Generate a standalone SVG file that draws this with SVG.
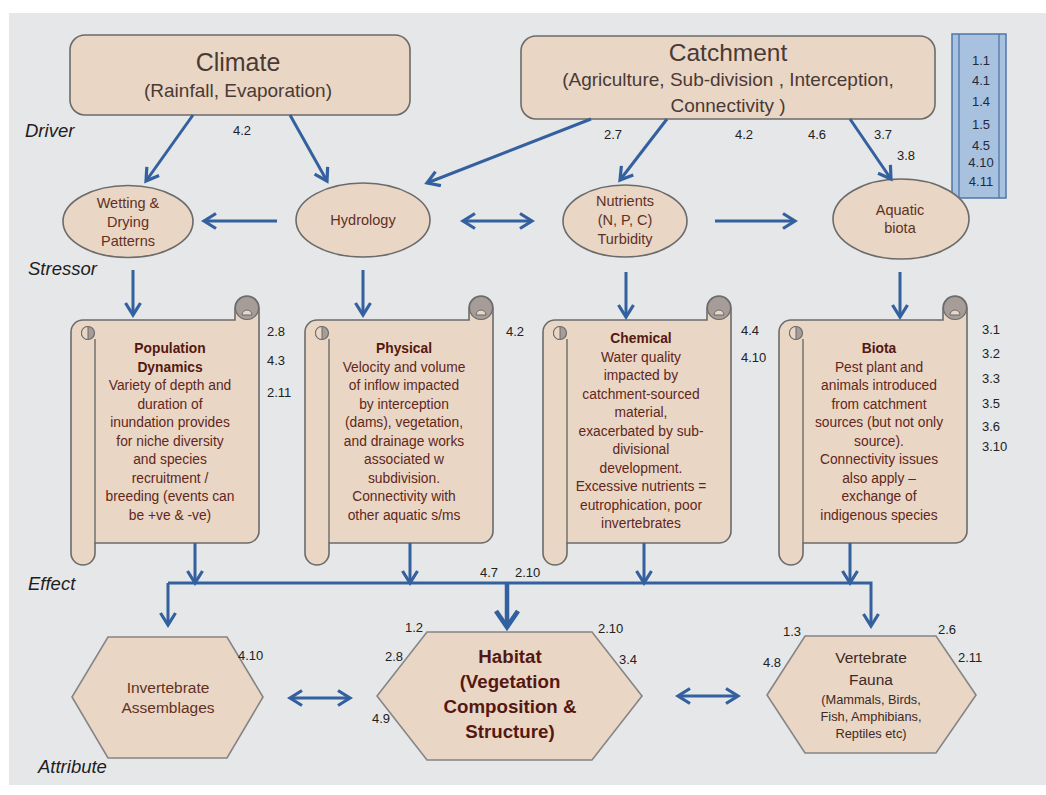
<svg xmlns="http://www.w3.org/2000/svg" xmlns:xlink="http://www.w3.org/1999/xlink" width="1046" height="795" viewBox="0 0 1046 795">
<style>
.t{font-family:'Liberation Sans',Arial,sans-serif;text-anchor:middle}
.node{fill:#e9d6c5;stroke:#6b6b6b;stroke-width:1.6}
.hex{fill:#e9d6c5;stroke:#858585;stroke-width:1.6}
.conn{fill:none;stroke:#33609f;stroke-width:3}
.num{font-family:'Liberation Sans',Arial,sans-serif;font-size:13px;fill:#222}
.lbl{font-family:'Liberation Sans',Arial,sans-serif;font-style:italic;font-size:18.5px;fill:#1e1e1e}
.box{font-size:19px;fill:#4a3a35}
.ell{font-size:14.5px;fill:#62301f}
.sc{font-size:13.8px;fill:#62261b}
.scb{font-weight:bold;fill:#551810}
.gray{fill:#a69d98;stroke:#6b6b6b;stroke-width:1.2}
</style>
<defs>
<marker id="ah" viewBox="0 0 18 18" refX="15" refY="9" markerWidth="18" markerHeight="18" markerUnits="userSpaceOnUse" orient="auto-start-reverse">
<path d="M3,1.5 L15,9 L3,16.5" fill="none" stroke="#33609f" stroke-width="3.2"/>
</marker>
<marker id="ahBig" viewBox="0 0 26 26" refX="20" refY="13" markerWidth="26" markerHeight="26" markerUnits="userSpaceOnUse" orient="auto">
<path d="M4,2 L20,13 L4,24" fill="none" stroke="#33609f" stroke-width="4.8"/>
</marker>
<g id="scrollShape">
<path class="node" d="M12,0 H164 V-12 A12,12 0 0 1 188,-12 V211 A12,12 0 0 1 176,223 H24 V233 A12,12 0 0 1 0,233 V12 A12,12 0 0 1 12,0 Z"/>
<path d="M24,19 V223" fill="none" stroke="#6b6b6b" stroke-width="1.4"/>
<circle class="gray" cx="176" cy="-12" r="11.5"/>
<path d="M171,-5 A5,5 0 0 1 181,-5 Z" fill="#e9d6c5" stroke="#6b6b6b" stroke-width="1"/>
<circle class="gray" cx="17" cy="13" r="6.5"/>
<path d="M17,6.5 A6.5,6.5 0 0 0 17,19.5 Z" fill="#e9d6c5" stroke="#6b6b6b" stroke-width="1"/>
</g>
</defs>

<rect x="0" y="0" width="1046" height="795" fill="#ffffff"/>
<rect x="9" y="13" width="1037" height="772" fill="#e6e7e9"/>

<g id="labels">
<text class="lbl" x="25" y="137">Driver</text>
<text class="lbl" x="28" y="275">Stressor</text>
<text class="lbl" x="28" y="590">Effect</text>
<text class="lbl" x="38" y="773">Attribute</text>
</g>

<g id="climate">
<rect class="node" x="70" y="35" width="340" height="80" rx="15"/>
<text class="t" x="238" y="71" font-size="25" fill="#4a3a35">Climate</text>
<text class="t box" x="238" y="97">(Rainfall, Evaporation)</text>
</g>

<g id="catchment">
<rect class="node" x="521" y="36" width="414" height="83" rx="15"/>
<text class="t" x="728" y="61" font-size="24.5" fill="#4a3a35">Catchment</text>
<text class="t box" x="728" y="86">(Agriculture, Sub-division , Interception,</text>
<text class="t box" x="728" y="112">Connectivity )</text>
</g>

<g id="sidebar">
<rect x="952" y="34" width="54" height="164" fill="#a8c1df" stroke="#4f77ab" stroke-width="1.5"/>
<line x1="959" y1="34" x2="959" y2="198" stroke="#4f77ab" stroke-width="1.3"/>
<line x1="999" y1="34" x2="999" y2="198" stroke="#4f77ab" stroke-width="1.3"/>
<g class="t" font-size="13" fill="#1f2a3d">
<text x="981" y="65">1.1</text>
<text x="981" y="85">4.1</text>
<text x="981" y="106">1.4</text>
<text x="981" y="129">1.5</text>
<text x="981" y="150">4.5</text>
<text x="981" y="167">4.10</text>
<text x="981" y="186">4.11</text>
</g>
</g>

<g id="wetting">
<ellipse class="node" cx="128" cy="221.5" rx="65" ry="36"/>
<text class="t ell" x="128" y="208">Wetting &amp;</text>
<text class="t ell" x="128" y="227">Drying</text>
<text class="t ell" x="128" y="246">Patterns</text>
</g>
<g id="hydrology">
<ellipse class="node" cx="363" cy="220" rx="67" ry="37"/>
<text class="t ell" x="363" y="225">Hydrology</text>
</g>
<g id="nutrients">
<ellipse class="node" cx="625" cy="221" rx="62" ry="36"/>
<text class="t ell" x="625" y="206">Nutrients</text>
<text class="t ell" x="625" y="225">(N, P, C)</text>
<text class="t ell" x="625" y="244">Turbidity</text>
</g>
<g id="aquatic">
<ellipse class="node" cx="901" cy="219" rx="68" ry="40"/>
<text class="t ell" x="900" y="215">Aquatic</text>
<text class="t ell" x="900" y="233">biota</text>
</g>

<g id="scroll-population">
<use xlink:href="#scrollShape" href="#scrollShape" x="71" y="320"/>
<g class="t sc">
<text class="scb" x="170" y="353">Population</text>
<text class="scb" x="170" y="371.5">Dynamics</text>
<text x="170" y="390">Variety of depth and</text>
<text x="170" y="408.5">duration of</text>
<text x="170" y="427">inundation provides</text>
<text x="170" y="445.5">for niche diversity</text>
<text x="170" y="464">and species</text>
<text x="170" y="482.5">recruitment /</text>
<text x="170" y="501">breeding (events can</text>
<text x="170" y="519.5">be +ve &amp; -ve)</text>
</g>
</g>

<g id="scroll-physical">
<use xlink:href="#scrollShape" href="#scrollShape" x="305" y="320"/>
<g class="t sc">
<text class="scb" x="404" y="353">Physical</text>
<text x="404" y="371.5">Velocity and volume</text>
<text x="404" y="390">of inflow impacted</text>
<text x="404" y="408.5">by interception</text>
<text x="404" y="427">(dams), vegetation,</text>
<text x="404" y="445.5">and drainage works</text>
<text x="404" y="464">associated w</text>
<text x="404" y="482.5">subdivision.</text>
<text x="404" y="501">Connectivity with</text>
<text x="404" y="519.5">other aquatic s/ms</text>
</g>
</g>

<g id="scroll-chemical">
<use xlink:href="#scrollShape" href="#scrollShape" x="543" y="320"/>
<g class="t sc">
<text class="scb" x="641" y="343">Chemical</text>
<text x="641" y="361.5">Water quality</text>
<text x="641" y="380">impacted by</text>
<text x="641" y="398.5">catchment-sourced</text>
<text x="641" y="417">material,</text>
<text x="641" y="435.5">exacerbated by sub-</text>
<text x="641" y="454">divisional</text>
<text x="641" y="472.5">development.</text>
<text x="641" y="491">Excessive nutrients =</text>
<text x="641" y="509.5">eutrophication, poor</text>
<text x="641" y="528">invertebrates</text>
</g>
</g>

<g id="scroll-biota">
<use xlink:href="#scrollShape" href="#scrollShape" x="779" y="320"/>
<g class="t sc">
<text class="scb" x="879" y="353">Biota</text>
<text x="879" y="371.5">Pest plant and</text>
<text x="879" y="390">animals introduced</text>
<text x="879" y="408.5">from catchment</text>
<text x="879" y="427">sources (but not only</text>
<text x="879" y="445.5">source).</text>
<text x="879" y="464">Connectivity issues</text>
<text x="879" y="482.5">also apply –</text>
<text x="879" y="501">exchange of</text>
<text x="879" y="519.5">indigenous species</text>
</g>
</g>

<g id="invertebrate">
<polygon class="hex" points="108,637 227,637 263,697 227,758 108,758 72,697"/>
<text class="t" x="168" y="693" font-size="15.5" fill="#62301f">Invertebrate</text>
<text class="t" x="168" y="713" font-size="15.5" fill="#62301f">Assemblages</text>
</g>

<g id="habitat">
<polygon class="hex" points="427,632 592,632 642,696 592,760 427,760 377,696"/>
<g class="t" font-size="18.7" font-weight="bold" fill="#551810">
<text x="510" y="663">Habitat</text>
<text x="510" y="688">(Vegetation</text>
<text x="510" y="713">Composition &amp;</text>
<text x="510" y="738">Structure)</text>
</g>
</g>

<g id="vertebrate">
<polygon class="hex" points="805,636 936,636 976,695 936,753 805,753 767,695"/>
<g class="t" fill="#3e2a25">
<text x="871" y="663" font-size="15.5">Vertebrate</text>
<text x="871" y="685" font-size="15.5">Fauna</text>
<text x="871" y="703.5" font-size="12.8">(Mammals, Birds,</text>
<text x="871" y="720.5" font-size="12.8">Fish, Amphibians,</text>
<text x="871" y="738" font-size="12.8">Reptiles etc)</text>
</g>
</g>

<g id="numbers" class="num">
<text x="233" y="135">4.2</text>
<text x="604" y="139">2.7</text>
<text x="735" y="139">4.2</text>
<text x="808" y="139">4.6</text>
<text x="874" y="139">3.7</text>
<text x="897" y="160">3.8</text>
<text x="267" y="336">2.8</text>
<text x="267" y="365">4.3</text>
<text x="267" y="397">2.11</text>
<text x="506" y="336">4.2</text>
<text x="741" y="335">4.4</text>
<text x="741" y="362">4.10</text>
<text x="982" y="334">3.1</text>
<text x="982" y="358">3.2</text>
<text x="982" y="383">3.3</text>
<text x="982" y="408">3.5</text>
<text x="982" y="431">3.6</text>
<text x="982" y="451">3.10</text>
<text x="480" y="577">4.7</text>
<text x="515" y="577">2.10</text>
<text x="238" y="660">4.10</text>
<text x="405" y="632">1.2</text>
<text x="385" y="661">2.8</text>
<text x="372" y="723">4.9</text>
<text x="598" y="633">2.10</text>
<text x="619" y="664">3.4</text>
<text x="783" y="636">1.3</text>
<text x="763" y="667">4.8</text>
<text x="938" y="634">2.6</text>
<text x="958" y="662">2.11</text>
</g>

<g id="connectors" class="conn">
<path d="M193,115 L146,181" marker-end="url(#ah)"/>
<path d="M290,115 L327,181" marker-end="url(#ah)"/>
<path d="M591,119 L427,183" marker-end="url(#ah)"/>
<path d="M667,119 L620,180" marker-end="url(#ah)"/>
<path d="M850,119 L891,179" marker-end="url(#ah)"/>
<path d="M277,221 L204,221" marker-end="url(#ah)"/>
<path d="M463,221 L532,221" marker-start="url(#ah)" marker-end="url(#ah)"/>
<path d="M715,221 L795,221" marker-end="url(#ah)"/>
<path d="M133,270 L133,315" marker-end="url(#ah)"/>
<path d="M363,270 L363,315" marker-end="url(#ah)"/>
<path d="M626,272 L626,317" marker-end="url(#ah)"/>
<path d="M900,272 L900,317" marker-end="url(#ah)"/>
<path d="M195,543 L195,583" marker-end="url(#ah)"/>
<path d="M410,543 L410,583" marker-end="url(#ah)"/>
<path d="M644,543 L644,583" marker-end="url(#ah)"/>
<path d="M850,543 L850,583" marker-end="url(#ah)"/>
<path d="M168,583 L168,625" marker-end="url(#ah)"/>
<path d="M168,583 H871 V626" marker-end="url(#ah)"/>
<path d="M507,583 L507,627" stroke-width="4.5" marker-end="url(#ahBig)"/>
<path d="M290,698 L350,698" marker-start="url(#ah)" marker-end="url(#ah)"/>
<path d="M678,696 L738,696" marker-start="url(#ah)" marker-end="url(#ah)"/>
</g>
</svg>
